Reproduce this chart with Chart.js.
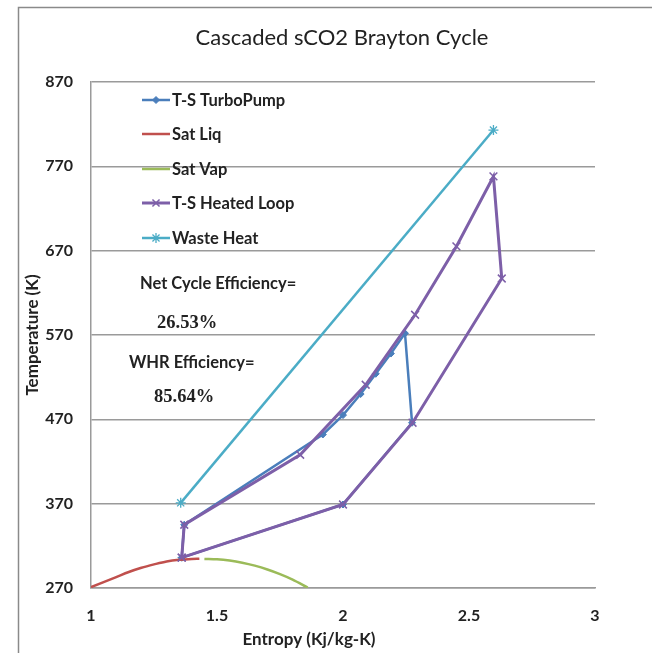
<!DOCTYPE html>
<html>
<head>
<meta charset="utf-8">
<script src="https://cdn.jsdelivr.net/npm/chart.js@4/dist/chart.umd.min.js"></script>
<style>
  html, body { margin: 0; padding: 0; background: #fff; }
  #wrap { width: 652px; height: 653px; position: relative; }
</style>
</head>
<body>
<div id="wrap"><canvas id="c" width="652" height="653"></canvas></div>
<script>
// ---- data (entropy kJ/kg-K, temperature K) ----
const turboPumpS = [1.36, 1.37, 1.92, 2.00, 2.07, 2.13, 2.19, 2.246, 2.274, 2.00, 1.36];
const turboPumpT = [306, 345, 452, 475, 500, 524, 548, 572, 466, 369, 306];

const satLiqS = [1.00, 1.05, 1.10, 1.15, 1.20, 1.25, 1.30, 1.35, 1.40, 1.43];
const satLiqT = [271, 277, 283, 289, 294, 298, 301.5, 303.5, 304.5, 304.7];

const satVapS = [1.45, 1.50, 1.55, 1.60, 1.65, 1.70, 1.75, 1.80, 1.86];
const satVapT = [304.5, 304, 302.5, 300, 296.5, 292, 286.5, 280, 270.5];

const heatedS = [1.36, 1.37, 1.83, 2.09, 2.286, 2.45, 2.597, 2.63, 2.276, 2.00, 1.36];
const heatedT = [306, 345, 428, 511, 594, 675, 758, 637, 466, 369, 306];

const wasteS = [1.356, 2.597];
const wasteT = [371, 813];

const xTicks = [1, 1.5, 2, 2.5, 3];
const yTicks = [270, 370, 470, 570, 670, 770, 870];

const seriesNames = ['T-S TurboPump', 'Sat Liq', 'Sat Vap', 'T-S Heated Loop', 'Waste Heat'];
const chartTitle = 'Cascaded sCO2 Brayton Cycle';
const xTitle = 'Entropy (Kj/kg-K)';
const yTitle = 'Temperature (K)';
const notes = ['Net Cycle Efficiency=', '26.53%', 'WHR Efficiency=', '85.64%'];

const pts = (xs, ys) => xs.map((x, i) => ({ x: x, y: ys[i] }));

const COL = {
  blue: '#4a7ebb', red: '#c0504d', green: '#9bbb59', purple: '#7d5fa8', cyan: '#4bacc6'
};
const FONT = 'Lato, "Open Sans", sans-serif';
const TXT = '#222';

const datasets = [
  { label: seriesNames[0], data: pts(turboPumpS, turboPumpT), borderColor: COL.blue, backgroundColor: COL.blue,
    borderWidth: 2.5, pointStyle: 'rectRot', pointRadius: 3.5, pointBorderWidth: 1, order: 5 },
  { label: seriesNames[1], data: pts(satLiqS, satLiqT), borderColor: COL.red, backgroundColor: COL.red,
    borderWidth: 2.5, pointRadius: 0, cubicInterpolationMode: 'monotone', order: 4 },
  { label: seriesNames[2], data: pts(satVapS, satVapT), borderColor: COL.green, backgroundColor: COL.green,
    borderWidth: 2.5, pointRadius: 0, cubicInterpolationMode: 'monotone', order: 3 },
  { label: seriesNames[3], data: pts(heatedS, heatedT), borderColor: COL.purple, backgroundColor: COL.purple,
    borderWidth: 3, pointStyle: 'crossRot', pointRadius: 5.5, pointBorderWidth: 1.5, order: 2 },
  { label: seriesNames[4], data: pts(wasteS, wasteT), borderColor: COL.cyan, backgroundColor: COL.cyan,
    borderWidth: 2.5, pointStyle: 'star', pointRadius: 5, pointBorderWidth: 1.3, order: 1 }
];

const extras = {
  id: 'extras',
  afterDraw(chart) {
    const ctx = chart.ctx;
    ctx.save();
    // outer frame
    ctx.strokeStyle = '#8a8a8a';
    ctx.lineWidth = 1.5;
    ctx.strokeRect(18.5, 7.5, 700, 700);
    // title
    ctx.fillStyle = TXT;
    ctx.font = '22px ' + FONT;
    ctx.textAlign = 'center';
    ctx.textBaseline = 'middle';
    ctx.fillText(chartTitle, 342, 38);
    // x axis title
    ctx.font = 'bold 17px ' + FONT;
    ctx.fillText(xTitle, 309, 640);
    // legend (inside the plot, no box)
    const legY = [100, 134, 169, 203, 238];
    const styles = ['rectRot', false, false, 'crossRot', 'star'];
    const radii = [3.5, 0, 0, 5, 5];
    ctx.textAlign = 'left';
    ctx.font = 'bold 16.5px ' + FONT;
    datasets.forEach((d, i) => {
      const y = legY[i];
      ctx.strokeStyle = d.borderColor;
      ctx.fillStyle = d.borderColor;
      ctx.lineWidth = d.borderWidth;
      ctx.beginPath();
      ctx.moveTo(142, y);
      ctx.lineTo(170, y);
      ctx.stroke();
      if (styles[i]) {
        ctx.lineWidth = d.pointBorderWidth;
        Chart.helpers.drawPoint(ctx, { pointStyle: styles[i], radius: radii[i], rotation: 0, borderWidth: d.pointBorderWidth }, 156, y);
      }
      ctx.fillStyle = TXT;
      ctx.fillText(d.label, 172, y + 1);
    });
    // efficiency notes
    ctx.fillStyle = TXT;
    ctx.font = 'bold 16.5px ' + FONT;
    ctx.fillText(notes[0], 140, 284);
    ctx.font = 'bold 18.5px "Liberation Serif", serif';
    ctx.fillText(notes[1], 157, 323);
    ctx.font = 'bold 16.5px ' + FONT;
    ctx.fillText(notes[2], 129, 363);
    ctx.font = 'bold 18.5px "Liberation Serif", serif';
    ctx.fillText(notes[3], 154, 397);
    ctx.restore();
  }
};

new Chart(document.getElementById('c'), {
  type: 'line',
  data: { datasets: datasets },
  plugins: [extras],
  options: {
    responsive: false,
    animation: false,
    events: [],
    layout: { padding: { top: 82, right: 57, left: 0, bottom: 0 } },
    plugins: { legend: { display: false }, title: { display: false }, tooltip: { enabled: false } },
    elements: { line: { tension: 0 } },
    scales: {
      x: {
        type: 'linear', min: 1, max: 3,
        afterFit(s) { s.height = 65; },
        afterBuildTicks(s) { s.ticks = xTicks.map(v => ({ value: v })); },
        grid: { display: false, drawTicks: false },
        border: { display: true, color: '#9a9a9a', width: 1.5 },
        ticks: { padding: 18, color: TXT, font: { family: FONT, size: 16, weight: 'bold' }, maxRotation: 0,
                 callback: v => String(v) },
        title: { display: false }
      },
      y: {
        type: 'linear', min: 270, max: 870,
        afterFit(s) { s.width = 91; },
        afterBuildTicks(s) { s.ticks = yTicks.map(v => ({ value: v })); },
        grid: { display: true, drawTicks: false, color: '#9a9a9a', lineWidth: 1.5 },
        border: { display: true, color: '#9a9a9a', width: 1.5 },
        ticks: { padding: 18, color: TXT, font: { family: FONT, size: 16, weight: 'bold' } },
        title: { display: true, text: yTitle, color: TXT, font: { family: FONT, size: 17, weight: 'bold' }, padding: { top: 22, bottom: 0 } }
      }
    }
  }
});
</script>
</body>
</html>
